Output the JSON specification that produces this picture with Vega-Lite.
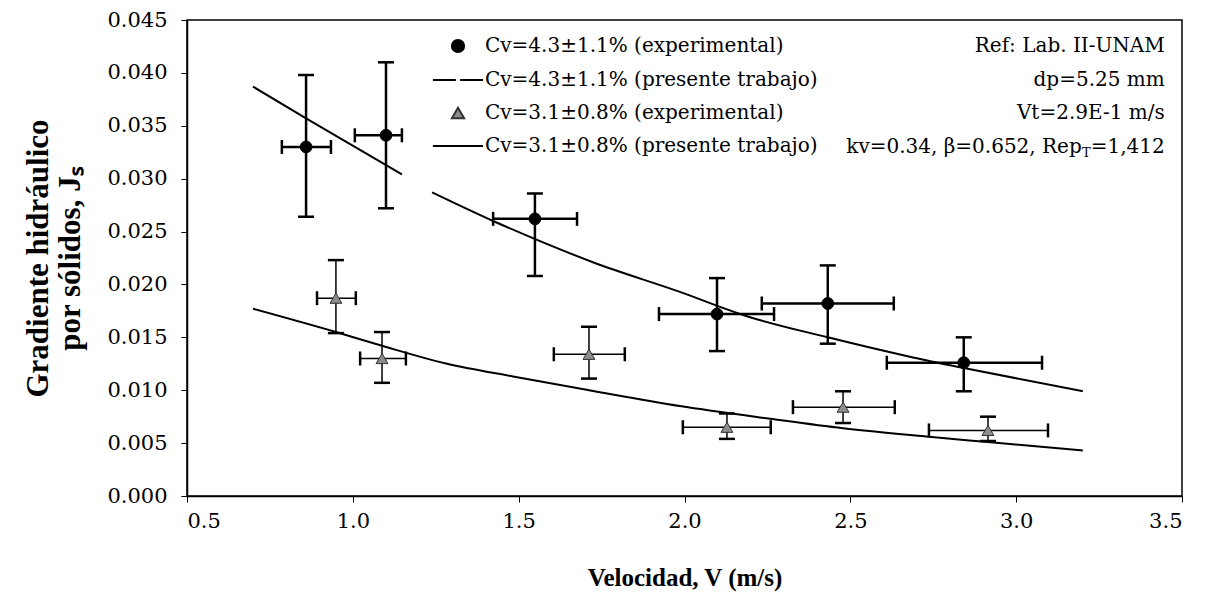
{
  "$schema": "https://vega.github.io/schema/vega-lite/v6.json",
  "width": 995,
  "height": 476,
  "autosize": {"type": "none"},
  "padding": {"left": 187, "top": 20, "right": 28, "bottom": 115},
  "background": "white",
  "config": {
    "font": "DejaVu Serif",
    "view": {"stroke": "black", "strokeWidth": 1.5},
    "axis": {
      "labelFont": "DejaVu Serif", "labelFontSize": 21, "labelColor": "black",
      "titleFont": "Liberation Serif", "titleFontWeight": "bold", "titleColor": "black",
      "domainColor": "black", "domainWidth": 1.5, "tickColor": "black", "tickSize": 6, "tickWidth": 1, "grid": false
    }
  },
  "datasets": {
    "pts": [
      {"series": "Cv=4.3±1.1% (experimental)", "v": 0.859, "j": 0.0330, "jlo": 0.0264, "jhi": 0.0398, "vlo": 0.786, "vhi": 0.934},
      {"series": "Cv=4.3±1.1% (experimental)", "v": 1.100, "j": 0.0341, "jlo": 0.0272, "jhi": 0.0410, "vlo": 1.006, "vhi": 1.148},
      {"series": "Cv=4.3±1.1% (experimental)", "v": 1.549, "j": 0.0262, "jlo": 0.0208, "jhi": 0.0286, "vlo": 1.423, "vhi": 1.676},
      {"series": "Cv=4.3±1.1% (experimental)", "v": 2.098, "j": 0.0172, "jlo": 0.0137, "jhi": 0.0206, "vlo": 1.923, "vhi": 2.270},
      {"series": "Cv=4.3±1.1% (experimental)", "v": 2.432, "j": 0.0182, "jlo": 0.0144, "jhi": 0.0218, "vlo": 2.233, "vhi": 2.631},
      {"series": "Cv=4.3±1.1% (experimental)", "v": 2.842, "j": 0.0126, "jlo": 0.0099, "jhi": 0.0150, "vlo": 2.610, "vhi": 3.078},
      {"series": "Cv=3.1±0.8% (experimental)", "v": 0.949, "j": 0.0187, "jlo": 0.0154, "jhi": 0.0223, "vlo": 0.892, "vhi": 1.009},
      {"series": "Cv=3.1±0.8% (experimental)", "v": 1.088, "j": 0.0130, "jlo": 0.0107, "jhi": 0.0155, "vlo": 1.022, "vhi": 1.160},
      {"series": "Cv=3.1±0.8% (experimental)", "v": 1.712, "j": 0.0134, "jlo": 0.0111, "jhi": 0.0160, "vlo": 1.606, "vhi": 1.820},
      {"series": "Cv=3.1±0.8% (experimental)", "v": 2.128, "j": 0.0065, "jlo": 0.0054, "jhi": 0.0078, "vlo": 1.995, "vhi": 2.260},
      {"series": "Cv=3.1±0.8% (experimental)", "v": 2.478, "j": 0.0084, "jlo": 0.0069, "jhi": 0.0099, "vlo": 2.327, "vhi": 2.634},
      {"series": "Cv=3.1±0.8% (experimental)", "v": 2.915, "j": 0.0062, "jlo": 0.0052, "jhi": 0.0075, "vlo": 2.737, "vhi": 3.096}
    ],
    "curves": [
      {"seg": "a1", "v": 0.699, "j": 0.0387},
      {"seg": "a1", "v": 0.859, "j": 0.0357},
      {"seg": "a1", "v": 1.148, "j": 0.0304},
      {"seg": "a2", "v": 1.239, "j": 0.0287},
      {"seg": "a2", "v": 1.423, "j": 0.0260},
      {"seg": "a2", "v": 1.534, "j": 0.0245},
      {"seg": "a2", "v": 1.724, "j": 0.0221},
      {"seg": "a2", "v": 1.986, "j": 0.0193},
      {"seg": "a2", "v": 2.188, "j": 0.0170},
      {"seg": "a2", "v": 2.432, "j": 0.0150},
      {"seg": "a2", "v": 2.689, "j": 0.0131},
      {"seg": "a2", "v": 2.842, "j": 0.0121},
      {"seg": "a2", "v": 3.201, "j": 0.0099},
      {"seg": "b", "v": 0.699, "j": 0.0177},
      {"seg": "b", "v": 0.949, "j": 0.0155},
      {"seg": "b", "v": 1.088, "j": 0.0142},
      {"seg": "b", "v": 1.284, "j": 0.0125},
      {"seg": "b", "v": 1.483, "j": 0.0113},
      {"seg": "b", "v": 1.712, "j": 0.0100},
      {"seg": "b", "v": 1.986, "j": 0.0085},
      {"seg": "b", "v": 2.258, "j": 0.0073},
      {"seg": "b", "v": 2.478, "j": 0.0064},
      {"seg": "b", "v": 2.737, "j": 0.0056},
      {"seg": "b", "v": 2.915, "j": 0.0051},
      {"seg": "b", "v": 3.201, "j": 0.0043}
    ]
  },
  "layer": [
    {
      "data": {"name": "curves"},
      "mark": {"type": "line", "color": "black", "strokeWidth": 2, "interpolate": "monotone"},
      "encoding": {
        "x": {"field": "v", "type": "quantitative", "scale": {"domain": [0.5, 3.5], "nice": false, "zero": false},
              "axis": {"title": "Velocidad, V (m/s)", "titleFontSize": 25, "values": [0.5, 1, 1.5, 2, 2.5, 3, 3.5], "format": ".1f", "labelPadding": 8, "titlePadding": 34}},
        "y": {"field": "j", "type": "quantitative", "scale": {"domain": [0, 0.045], "nice": false},
              "axis": {"title": ["Gradiente hidráulico", "por sólidos, Jₛ"], "titleFontSize": 31, "values": [0, 0.005, 0.01, 0.015, 0.02, 0.025, 0.03, 0.035, 0.04, 0.045], "format": ".3f", "labelPadding": 14, "titlePadding": 20, "titleLineHeight": 32}},
        "detail": {"field": "seg"}
      }
    },
    {
      "data": {"name": "pts"},
      "mark": {"type": "rule", "color": "black"},
      "encoding": {
        "x": {"field": "v", "type": "quantitative"},
        "y": {"field": "jlo", "type": "quantitative"},
        "y2": {"field": "jhi"},
        "strokeWidth": {"field": "series", "type": "nominal", "scale": {"domain": ["Cv=4.3±1.1% (experimental)", "Cv=3.1±0.8% (experimental)"], "range": [2.5, 1.5]}, "legend": null}
      }
    },
    {
      "data": {"name": "pts"},
      "mark": {"type": "rule", "color": "black"},
      "encoding": {
        "x": {"field": "vlo", "type": "quantitative"},
        "x2": {"field": "vhi"},
        "y": {"field": "j", "type": "quantitative"},
        "strokeWidth": {"field": "series", "type": "nominal", "scale": {"domain": ["Cv=4.3±1.1% (experimental)", "Cv=3.1±0.8% (experimental)"], "range": [2.5, 1.5]}, "legend": null}
      }
    },
    {
      "data": {"name": "pts"},
      "transform": [{"fold": ["jlo", "jhi"], "as": ["k", "val"]}],
      "mark": {"type": "tick", "orient": "horizontal", "color": "black", "thickness": 2.5, "opacity": 1, "size": 16},
      "encoding": {
        "x": {"field": "v", "type": "quantitative"},
        "y": {"field": "val", "type": "quantitative"}
      }
    },
    {
      "data": {"name": "pts"},
      "transform": [{"fold": ["vlo", "vhi"], "as": ["k", "val"]}],
      "mark": {"type": "tick", "orient": "vertical", "color": "black", "thickness": 2.5, "opacity": 1, "size": 14},
      "encoding": {
        "x": {"field": "val", "type": "quantitative"},
        "y": {"field": "j", "type": "quantitative"}
      }
    },
    {
      "data": {"name": "pts"},
      "mark": {"type": "point", "filled": true, "strokeWidth": 1, "opacity": 1, "size": 140},
      "encoding": {
        "x": {"field": "v", "type": "quantitative"},
        "y": {"field": "j", "type": "quantitative"},
        "shape": {"field": "series", "type": "nominal",
          "scale": {"domain": ["Cv=4.3±1.1% (experimental)", "Cv=4.3±1.1% (presente trabajo)", "Cv=3.1±0.8% (experimental)", "Cv=3.1±0.8% (presente trabajo)"],
                    "range": ["circle", "M-4.1,0H-0.35M0.35,0H4.1", "triangle-up", "M-4.1,0H4.1"]},
          "legend": {"title": null, "orient": "none", "legendX": 261, "legendY": 16, "padding": 0, "labelFont": "DejaVu Serif", "labelFontSize": 20, "labelColor": "black", "labelLimit": 0, "labelOffset": 17, "rowPadding": 13, "symbolSize": 150, "symbolStrokeWidth": 2, "symbolOpacity": 1}},
        "fill": {"field": "series", "type": "nominal",
          "scale": {"domain": ["Cv=4.3±1.1% (experimental)", "Cv=4.3±1.1% (presente trabajo)", "Cv=3.1±0.8% (experimental)", "Cv=3.1±0.8% (presente trabajo)"],
                    "range": ["black", "black", "#8c8c8c", "black"]}},
        "stroke": {"field": "series", "type": "nominal",
          "scale": {"domain": ["Cv=4.3±1.1% (experimental)", "Cv=4.3±1.1% (presente trabajo)", "Cv=3.1±0.8% (experimental)", "Cv=3.1±0.8% (presente trabajo)"],
                    "range": ["black", "black", "#333333", "black"]}}
      }
    },
    {
      "data": {"values": [
        {"t": "Ref: Lab. II-UNAM", "v": 3.448, "j": 0.0425},
        {"t": "dp=5.25 mm", "v": 3.448, "j": 0.0393},
        {"t": "Vt=2.9E-1 m/s", "v": 3.448, "j": 0.0362},
        {"t": "=1,412", "v": 3.448, "j": 0.0330}
      ]},
      "mark": {"type": "text", "align": "right", "baseline": "middle", "font": "DejaVu Serif", "fontSize": 20, "color": "black"},
      "encoding": {"x": {"field": "v", "type": "quantitative"}, "y": {"field": "j", "type": "quantitative"}, "text": {"field": "t"}}
    },
    {
      "data": {"values": [{"t": "T", "v": 3.448, "j": 0.0330}]},
      "mark": {"type": "text", "align": "right", "baseline": "middle", "font": "DejaVu Serif", "fontSize": 13, "color": "black", "dx": -74, "dy": 6},
      "encoding": {"x": {"field": "v", "type": "quantitative"}, "y": {"field": "j", "type": "quantitative"}, "text": {"field": "t"}}
    },
    {
      "data": {"values": [{"t": "kv=0.34, β=0.652, Rep", "v": 3.448, "j": 0.0330}]},
      "mark": {"type": "text", "align": "right", "baseline": "middle", "font": "DejaVu Serif", "fontSize": 20, "color": "black", "dx": -83},
      "encoding": {"x": {"field": "v", "type": "quantitative"}, "y": {"field": "j", "type": "quantitative"}, "text": {"field": "t"}}
    }
  ]
}
